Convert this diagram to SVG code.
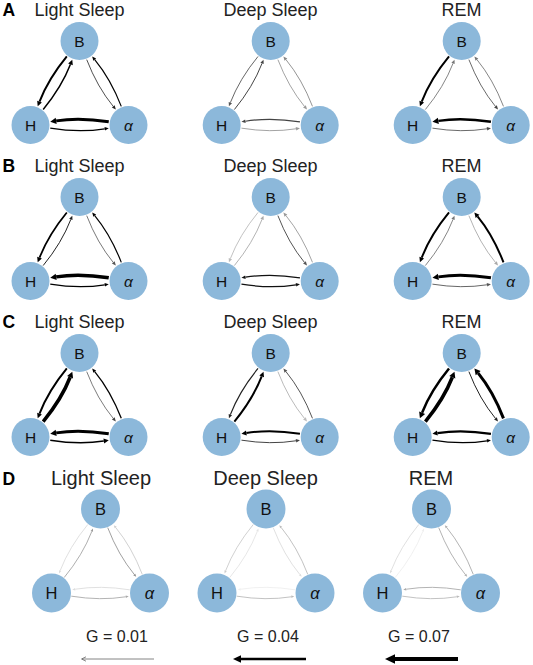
<svg xmlns="http://www.w3.org/2000/svg" width="533" height="665" viewBox="0 0 533 665">
<style>
.bg{fill:#ffffff}
.node{fill:#8cb8da}
.nl{font-family:"Liberation Sans",Arial,sans-serif;font-size:15.5px;fill:#111;text-anchor:middle}
.nd{font-size:16.5px}
.al{font-style:italic}
.title{font-family:"Liberation Sans",Arial,sans-serif;font-size:18px;fill:#222;text-anchor:middle}
.td{font-size:20px}
.letter{font-family:"Liberation Sans",Arial,sans-serif;font-size:17.5px;font-weight:bold;fill:#000}
.g{font-family:"Liberation Sans",Arial,sans-serif;font-size:16px;fill:#222;text-anchor:middle}
.e{fill:none}
.s{marker-end:url(#hs)}
.m{marker-end:url(#hm)}
.l{marker-end:url(#hl)}
.t{marker-end:url(#ht)}
</style>
<defs>
<marker id="ht" markerUnits="userSpaceOnUse" markerWidth="12" markerHeight="12" refX="0" refY="0" orient="auto" overflow="visible"><path d="M0,-1.3 L3,0 L0,1.3z" fill="context-stroke"/></marker>
<marker id="hs" markerUnits="userSpaceOnUse" markerWidth="12" markerHeight="12" refX="0" refY="0" orient="auto" overflow="visible"><path d="M0,-1.8 L4,0 L0,1.8z" fill="context-stroke"/></marker>
<marker id="hm" markerUnits="userSpaceOnUse" markerWidth="12" markerHeight="12" refX="0" refY="0" orient="auto" overflow="visible"><path d="M0,-2.5 L5,0 L0,2.5z" fill="context-stroke"/></marker>
<marker id="hl" markerUnits="userSpaceOnUse" markerWidth="12" markerHeight="12" refX="0" refY="0" orient="auto" overflow="visible"><path d="M0,-3.2 L6,0 L0,3.2z" fill="context-stroke"/></marker>
</defs>
<rect class="bg" width="533" height="665"/>

<!-- Panel letters and titles -->
<g id="labels">
<text class="letter" x="2.5" y="16">A</text>
<text class="letter" x="2.5" y="172">B</text>
<text class="letter" x="2.5" y="327.5">C</text>
<text class="letter" x="2.5" y="485">D</text>
<text class="title" x="79.5" y="16">Light Sleep</text>
<text class="title" x="270.5" y="16">Deep Sleep</text>
<text class="title" x="461.5" y="16">REM</text>
<text class="title" x="79.5" y="172">Light Sleep</text>
<text class="title" x="270.5" y="172">Deep Sleep</text>
<text class="title" x="461.5" y="172">REM</text>
<text class="title" x="79.5" y="327.5">Light Sleep</text>
<text class="title" x="270.5" y="327.5">Deep Sleep</text>
<text class="title" x="461.5" y="327.5">REM</text>
<text class="title td" x="101" y="485">Light Sleep</text>
<text class="title td" x="265.5" y="485">Deep Sleep</text>
<text class="title td" x="431" y="485">REM</text>
</g>

<!-- ===== Row A ===== -->
<g id="A-light" transform="translate(30.5,41)">
<g id="A-light-edges">
<path class="e m" stroke="#000" stroke-width="2" d="M36.32,15.46 Q17.78,38.08 9.03,60.69"/>
<path class="e m" stroke="#000" stroke-width="1.5" d="M12.68,68.54 Q31.22,45.92 39.98,23.32"/>
<path class="e s" stroke="#222" stroke-width="0.8" d="M56.22,18.65 Q66.78,45.92 82.78,65.45"/>
<path class="e s" stroke="#000" stroke-width="1.2" d="M90.78,65.35 Q80.22,38.08 64.22,18.55"/>
<path class="e l" stroke="#000" stroke-width="3" d="M78.25,80.84 Q49,76.16 25.68,79.89"/>
<path class="e s" stroke="#000" stroke-width="1.3" d="M19.75,87.16 Q49,91.84 74.30,87.79"/>
</g>
<g id="A-light-B"><circle class="node" cx="49" cy="0" r="19"/><text class="nl" x="49" y="5.5">B</text></g>
<g id="A-light-H"><circle class="node" cx="0" cy="84" r="19"/><text class="nl" x="0" y="89.5">H</text></g>
<g id="A-light-a"><circle class="node" cx="98" cy="84" r="19"/><text class="nl al" x="98" y="89.5">α</text></g>
</g>

<g id="A-deep" transform="translate(221.7,41)">
<g id="A-deep-edges">
<path class="e s" stroke="#555" stroke-width="0.9" d="M36.32,15.46 Q17.78,38.08 8.66,61.62"/>
<path class="e s" stroke="#444" stroke-width="1" d="M12.68,68.54 Q31.22,45.92 40.34,22.38"/>
<path class="e s" stroke="#999" stroke-width="0.9" d="M56.22,18.65 Q66.78,45.92 82.78,65.45"/>
<path class="e s" stroke="#888" stroke-width="0.9" d="M90.78,65.35 Q80.22,38.08 64.22,18.55"/>
<path class="e s" stroke="#444" stroke-width="1.1" d="M78.25,80.84 Q49,76.16 23.70,80.21"/>
<path class="e s" stroke="#999" stroke-width="0.9" d="M19.75,87.16 Q49,91.84 74.30,87.79"/>
</g>
<g id="A-deep-B"><circle class="node" cx="49" cy="0" r="19"/><text class="nl" x="49" y="5.5">B</text></g>
<g id="A-deep-H"><circle class="node" cx="0" cy="84" r="19"/><text class="nl" x="0" y="89.5">H</text></g>
<g id="A-deep-a"><circle class="node" cx="98" cy="84" r="19"/><text class="nl al" x="98" y="89.5">α</text></g>
</g>

<g id="A-rem" transform="translate(412.7,41)">
<g id="A-rem-edges">
<path class="e m" stroke="#000" stroke-width="2" d="M36.32,15.46 Q17.78,38.08 9.03,60.69"/>
<path class="e s" stroke="#777" stroke-width="0.9" d="M12.68,68.54 Q31.22,45.92 40.34,22.38"/>
<path class="e s" stroke="#444" stroke-width="0.8" d="M56.22,18.65 Q66.78,45.92 82.78,65.45"/>
<path class="e s" stroke="#777" stroke-width="0.9" d="M90.78,65.35 Q80.22,38.08 64.22,18.55"/>
<path class="e l" stroke="#000" stroke-width="2.5" d="M78.25,80.84 Q49,76.16 25.68,79.89"/>
<path class="e s" stroke="#444" stroke-width="0.8" d="M19.75,87.16 Q49,91.84 74.30,87.79"/>
</g>
<g id="A-rem-B"><circle class="node" cx="49" cy="0" r="19"/><text class="nl" x="49" y="5.5">B</text></g>
<g id="A-rem-H"><circle class="node" cx="0" cy="84" r="19"/><text class="nl" x="0" y="89.5">H</text></g>
<g id="A-rem-a"><circle class="node" cx="98" cy="84" r="19"/><text class="nl al" x="98" y="89.5">α</text></g>
</g>

<!-- ===== Row B ===== -->
<g id="B-light" transform="translate(30.5,197)">
<g id="B-light-edges">
<path class="e m" stroke="#000" stroke-width="1.8" d="M36.32,15.46 Q17.78,38.08 9.03,60.69"/>
<path class="e s" stroke="#222" stroke-width="1" d="M12.68,68.54 Q31.22,45.92 40.34,22.38"/>
<path class="e s" stroke="#555" stroke-width="0.8" d="M56.22,18.65 Q66.78,45.92 82.78,65.45"/>
<path class="e s" stroke="#000" stroke-width="1.2" d="M90.78,65.35 Q80.22,38.08 64.22,18.55"/>
<path class="e l" stroke="#000" stroke-width="3.5" d="M78.25,80.84 Q49,76.16 25.68,79.89"/>
<path class="e s" stroke="#000" stroke-width="1.2" d="M19.75,87.16 Q49,91.84 74.30,87.79"/>
</g>
<g id="B-light-B"><circle class="node" cx="49" cy="0" r="19"/><text class="nl" x="49" y="5.5">B</text></g>
<g id="B-light-H"><circle class="node" cx="0" cy="84" r="19"/><text class="nl" x="0" y="89.5">H</text></g>
<g id="B-light-a"><circle class="node" cx="98" cy="84" r="19"/><text class="nl al" x="98" y="89.5">α</text></g>
</g>

<g id="B-deep" transform="translate(221.7,197)">
<g id="B-deep-edges">
<path class="e s" stroke="#bbb" stroke-width="0.9" d="M36.32,15.46 Q17.78,38.08 8.66,61.62"/>
<path class="e s" stroke="#aaa" stroke-width="0.9" d="M12.68,68.54 Q31.22,45.92 40.34,22.38"/>
<path class="e s" stroke="#555" stroke-width="1" d="M56.22,18.65 Q66.78,45.92 82.78,65.45"/>
<path class="e s" stroke="#999" stroke-width="0.9" d="M90.78,65.35 Q80.22,38.08 64.22,18.55"/>
<path class="e s" stroke="#111" stroke-width="1.3" d="M78.25,80.84 Q49,76.16 23.70,80.21"/>
<path class="e s" stroke="#111" stroke-width="1.2" d="M19.75,87.16 Q49,91.84 74.30,87.79"/>
</g>
<g id="B-deep-B"><circle class="node" cx="49" cy="0" r="19"/><text class="nl" x="49" y="5.5">B</text></g>
<g id="B-deep-H"><circle class="node" cx="0" cy="84" r="19"/><text class="nl" x="0" y="89.5">H</text></g>
<g id="B-deep-a"><circle class="node" cx="98" cy="84" r="19"/><text class="nl al" x="98" y="89.5">α</text></g>
</g>

<g id="B-rem" transform="translate(412.7,197)">
<g id="B-rem-edges">
<path class="e m" stroke="#000" stroke-width="2" d="M36.32,15.46 Q17.78,38.08 9.03,60.69"/>
<path class="e s" stroke="#777" stroke-width="0.9" d="M12.68,68.54 Q31.22,45.92 40.34,22.38"/>
<path class="e s" stroke="#aaa" stroke-width="0.9" d="M56.22,18.65 Q66.78,45.92 82.78,65.45"/>
<path class="e m" stroke="#000" stroke-width="2" d="M90.78,65.35 Q80.22,38.08 64.85,19.33"/>
<path class="e l" stroke="#000" stroke-width="3" d="M78.25,80.84 Q49,76.16 25.68,79.89"/>
<path class="e s" stroke="#555" stroke-width="0.9" d="M19.75,87.16 Q49,91.84 74.30,87.79"/>
</g>
<g id="B-rem-B"><circle class="node" cx="49" cy="0" r="19"/><text class="nl" x="49" y="5.5">B</text></g>
<g id="B-rem-H"><circle class="node" cx="0" cy="84" r="19"/><text class="nl" x="0" y="89.5">H</text></g>
<g id="B-rem-a"><circle class="node" cx="98" cy="84" r="19"/><text class="nl al" x="98" y="89.5">α</text></g>
</g>

<!-- ===== Row C ===== -->
<g id="C-light" transform="translate(30.5,353)">
<g id="C-light-edges">
<path class="e m" stroke="#000" stroke-width="2" d="M36.32,15.46 Q17.78,38.08 9.03,60.69"/>
<path class="e l" stroke="#000" stroke-width="3.5" d="M12.68,68.54 Q31.22,45.92 39.61,24.25"/>
<path class="e s" stroke="#444" stroke-width="0.7" d="M56.22,18.65 Q66.78,45.92 82.78,65.45"/>
<path class="e s" stroke="#000" stroke-width="1.3" d="M90.78,65.35 Q80.22,38.08 64.22,18.55"/>
<path class="e l" stroke="#000" stroke-width="3" d="M78.25,80.84 Q49,76.16 25.68,79.89"/>
<path class="e m" stroke="#000" stroke-width="1.5" d="M19.75,87.16 Q49,91.84 73.31,87.95"/>
</g>
<g id="C-light-B"><circle class="node" cx="49" cy="0" r="19"/><text class="nl" x="49" y="5.5">B</text></g>
<g id="C-light-H"><circle class="node" cx="0" cy="84" r="19"/><text class="nl" x="0" y="89.5">H</text></g>
<g id="C-light-a"><circle class="node" cx="98" cy="84" r="19"/><text class="nl al" x="98" y="89.5">α</text></g>
</g>

<g id="C-deep" transform="translate(221.7,353)">
<g id="C-deep-edges">
<path class="e s" stroke="#222" stroke-width="1.2" d="M36.32,15.46 Q17.78,38.08 8.66,61.62"/>
<path class="e m" stroke="#000" stroke-width="2" d="M12.68,68.54 Q31.22,45.92 39.98,23.32"/>
<path class="e s" stroke="#bbb" stroke-width="1" d="M56.22,18.65 Q66.78,45.92 82.78,65.45"/>
<path class="e s" stroke="#555" stroke-width="1" d="M90.78,65.35 Q80.22,38.08 64.22,18.55"/>
<path class="e m" stroke="#000" stroke-width="2" d="M78.25,80.84 Q49,76.16 24.69,80.05"/>
<path class="e s" stroke="#444" stroke-width="1" d="M19.75,87.16 Q49,91.84 74.30,87.79"/>
</g>
<g id="C-deep-B"><circle class="node" cx="49" cy="0" r="19"/><text class="nl" x="49" y="5.5">B</text></g>
<g id="C-deep-H"><circle class="node" cx="0" cy="84" r="19"/><text class="nl" x="0" y="89.5">H</text></g>
<g id="C-deep-a"><circle class="node" cx="98" cy="84" r="19"/><text class="nl al" x="98" y="89.5">α</text></g>
</g>

<g id="C-rem" transform="translate(412.7,353)">
<g id="C-rem-edges">
<path class="e l" stroke="#000" stroke-width="2.5" d="M36.32,15.46 Q17.78,38.08 9.39,59.75"/>
<path class="e l" stroke="#000" stroke-width="3.5" d="M12.68,68.54 Q31.22,45.92 39.61,24.25"/>
<path class="e s" stroke="#222" stroke-width="1" d="M56.22,18.65 Q66.78,45.92 82.78,65.45"/>
<path class="e l" stroke="#000" stroke-width="3" d="M90.78,65.35 Q80.22,38.08 65.48,20.10"/>
<path class="e m" stroke="#000" stroke-width="2.2" d="M78.25,80.84 Q49,76.16 24.69,80.05"/>
<path class="e s" stroke="#000" stroke-width="1.2" d="M19.75,87.16 Q49,91.84 74.30,87.79"/>
</g>
<g id="C-rem-B"><circle class="node" cx="49" cy="0" r="19"/><text class="nl" x="49" y="5.5">B</text></g>
<g id="C-rem-H"><circle class="node" cx="0" cy="84" r="19"/><text class="nl" x="0" y="89.5">H</text></g>
<g id="C-rem-a"><circle class="node" cx="98" cy="84" r="19"/><text class="nl al" x="98" y="89.5">α</text></g>
</g>

<!-- ===== Row D ===== -->
<g id="D-light" transform="translate(51.5,509)">
<g id="D-light-edges">
<path class="e t" stroke="#ddd" stroke-width="0.9" d="M36.32,15.46 Q17.78,38.08 8.66,61.62"/>
<path class="e t" stroke="#999" stroke-width="0.8" d="M12.68,68.54 Q31.22,45.92 40.34,22.38"/>
<path class="e t" stroke="#888" stroke-width="0.8" d="M56.22,18.65 Q66.78,45.92 82.78,65.45"/>
<path class="e t" stroke="#ccc" stroke-width="0.9" d="M90.78,65.35 Q80.22,38.08 64.22,18.55"/>
<path class="e t" stroke="#ddd" stroke-width="0.9" d="M78.25,80.84 Q49,76.16 23.70,80.21"/>
<path class="e t" stroke="#aaa" stroke-width="0.9" d="M19.75,87.16 Q49,91.84 74.30,87.79"/>
</g>
<g id="D-light-B"><circle class="node" cx="49" cy="0" r="19.5"/><text class="nl nd" x="49" y="5.9">B</text></g>
<g id="D-light-H"><circle class="node" cx="0" cy="84" r="19.5"/><text class="nl nd" x="0" y="89.9">H</text></g>
<g id="D-light-a"><circle class="node" cx="98" cy="84" r="19.5"/><text class="nl nd al" x="98" y="89.9">α</text></g>
</g>

<g id="D-deep" transform="translate(217,509)">
<g id="D-deep-edges">
<path class="e t" stroke="#ccc" stroke-width="0.9" d="M36.32,15.46 Q17.78,38.08 8.66,61.62"/>
<path class="e t" stroke="#e4e4e4" stroke-width="0.9" d="M12.68,68.54 Q31.22,45.92 40.34,22.38"/>
<path class="e t" stroke="#ddd" stroke-width="0.9" d="M56.22,18.65 Q66.78,45.92 82.78,65.45"/>
<path class="e t" stroke="#bbb" stroke-width="0.9" d="M90.78,65.35 Q80.22,38.08 64.22,18.55"/>
<path class="e t" stroke="#eee" stroke-width="0.9" d="M78.25,80.84 Q49,76.16 23.70,80.21"/>
<path class="e t" stroke="#bbb" stroke-width="0.9" d="M19.75,87.16 Q49,91.84 74.30,87.79"/>
</g>
<g id="D-deep-B"><circle class="node" cx="49" cy="0" r="19.5"/><text class="nl nd" x="49" y="5.9">B</text></g>
<g id="D-deep-H"><circle class="node" cx="0" cy="84" r="19.5"/><text class="nl nd" x="0" y="89.9">H</text></g>
<g id="D-deep-a"><circle class="node" cx="98" cy="84" r="19.5"/><text class="nl nd al" x="98" y="89.9">α</text></g>
</g>

<g id="D-rem" transform="translate(382.5,509)">
<g id="D-rem-edges">
<path class="e t" stroke="#ddd" stroke-width="0.9" d="M36.32,15.46 Q17.78,38.08 8.66,61.62"/>
<path class="e t" stroke="#eee" stroke-width="0.9" d="M12.68,68.54 Q31.22,45.92 40.34,22.38"/>
<path class="e t" stroke="#aaa" stroke-width="0.9" d="M56.22,18.65 Q66.78,45.92 82.78,65.45"/>
<path class="e t" stroke="#aaa" stroke-width="0.9" d="M90.78,65.35 Q80.22,38.08 64.22,18.55"/>
<path class="e t" stroke="#aaa" stroke-width="0.9" d="M78.25,80.84 Q49,76.16 23.70,80.21"/>
<path class="e t" stroke="#bbb" stroke-width="0.9" d="M19.75,87.16 Q49,91.84 74.30,87.79"/>
</g>
<g id="D-rem-B"><circle class="node" cx="49" cy="0" r="19.5"/><text class="nl nd" x="49" y="5.9">B</text></g>
<g id="D-rem-H"><circle class="node" cx="0" cy="84" r="19.5"/><text class="nl nd" x="0" y="89.9">H</text></g>
<g id="D-rem-a"><circle class="node" cx="98" cy="84" r="19.5"/><text class="nl nd al" x="98" y="89.9">α</text></g>
</g>

<!-- Legend -->
<g id="legend">
<text class="g" x="117" y="641.5">G = 0.01</text>
<text class="g" x="268" y="641.5">G = 0.04</text>
<text class="g" x="419" y="641.5">G = 0.07</text>
<path d="M154,659 L82,659" stroke="#666" stroke-width="0.8" fill="none"/>
<path d="M86,656.8 L81.5,659 L86,661.2" stroke="#666" stroke-width="0.8" fill="none"/>
<path d="M306,659 L240,659" stroke="#000" stroke-width="2.5" fill="none"/>
<path d="M233,659 L241,655.2 L241,662.8z" fill="#000"/>
<path d="M458,659 L393,659" stroke="#000" stroke-width="4" fill="none"/>
<path d="M385,659 L395,654.2 L395,663.8z" fill="#000"/>
</g>
</svg>
